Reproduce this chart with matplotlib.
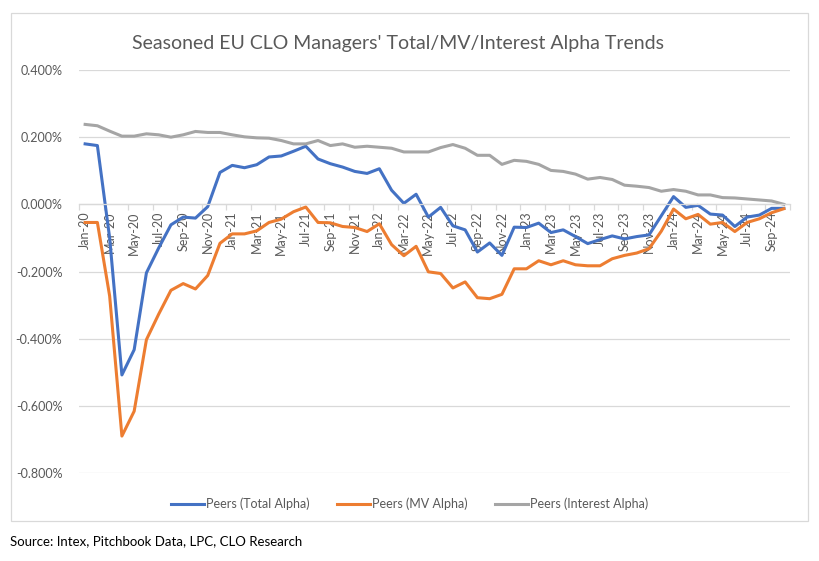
import matplotlib
matplotlib.use('Agg')
import matplotlib.pyplot as plt
from matplotlib.patches import Rectangle
from matplotlib.ticker import FuncFormatter
import pandas as pd

# monthly categories Jan-20 .. Oct-24
months = list(pd.date_range('2020-01-01', periods=58, freq='MS').strftime('%b-%y'))

# values in percent
total_alpha = [0.180, 0.175, -0.100, -0.508, -0.433, -0.204, -0.130, -0.061, -0.038, -0.041,
               -0.007, 0.095, 0.116, 0.109, 0.118, 0.141, 0.144, 0.158, 0.173, 0.135,
               0.121, 0.111, 0.098, 0.092, 0.106, 0.042, 0.003, 0.030, -0.038, -0.009,
               -0.064, -0.076, -0.142, -0.115, -0.152, -0.068, -0.069, -0.056, -0.084, -0.076,
               -0.096, -0.117, -0.105, -0.094, -0.103, -0.096, -0.091, -0.034, 0.023, -0.009,
               -0.003, -0.029, -0.032, -0.066, -0.038, -0.032, -0.012, -0.012]
mv_alpha = [-0.054, -0.054, -0.273, -0.690, -0.616, -0.403, -0.327, -0.256, -0.236, -0.252,
            -0.212, -0.116, -0.088, -0.088, -0.079, -0.054, -0.044, -0.022, -0.008, -0.054,
            -0.055, -0.066, -0.069, -0.081, -0.058, -0.120, -0.153, -0.125, -0.201, -0.206,
            -0.249, -0.231, -0.278, -0.281, -0.268, -0.192, -0.192, -0.168, -0.180, -0.168,
            -0.180, -0.183, -0.183, -0.162, -0.152, -0.145, -0.132, -0.080, -0.014, -0.043,
            -0.030, -0.059, -0.054, -0.081, -0.054, -0.043, -0.025, -0.013]
interest_alpha = [0.238, 0.234, 0.218, 0.203, 0.203, 0.210, 0.207, 0.200, 0.207, 0.217,
                  0.214, 0.214, 0.207, 0.201, 0.198, 0.197, 0.190, 0.180, 0.180, 0.190,
                  0.175, 0.180, 0.170, 0.173, 0.170, 0.167, 0.156, 0.156, 0.156, 0.169,
                  0.178, 0.167, 0.146, 0.146, 0.119, 0.131, 0.128, 0.119, 0.101, 0.098,
                  0.090, 0.075, 0.080, 0.074, 0.057, 0.054, 0.050, 0.039, 0.044, 0.039,
                  0.028, 0.028, 0.020, 0.019, 0.016, 0.013, 0.010, 0.000]
y_ticks = [-0.8, -0.6, -0.4, -0.2, 0.0, 0.2, 0.4]

plt.rcParams['font.family'] = ['Lato', 'DejaVu Sans']
txt = '#595959'
grid_c = '#D9D9D9'

fig = plt.figure(figsize=(8.2, 5.61), dpi=100)
W, H = 820, 561
ax = fig.add_axes([79 / W, 88 / H, (790 - 79) / W, (491 - 88) / H])

x = range(len(months))
ax.plot(x, total_alpha, color='#4472C4', lw=2.2, label='Peers (Total Alpha)', solid_joinstyle='round')
ax.plot(x, mv_alpha, color='#ED7D31', lw=2.2, label='Peers (MV Alpha)', solid_joinstyle='round')
ax.plot(x, interest_alpha, color='#A5A5A5', lw=2.2, label='Peers (Interest Alpha)', solid_joinstyle='round')

ax.set_xlim(-0.5, len(months) - 0.5)
ax.set_ylim(-0.8, 0.4)
ax.set_yticks(y_ticks)
ax.yaxis.set_major_formatter(FuncFormatter(lambda v, p: '%.3f%%' % v))
ax.yaxis.grid(True, color=grid_c, lw=0.9)
ax.set_axisbelow(True)

# category axis crossing at zero
for s in ['top', 'right', 'left']:
    ax.spines[s].set_visible(False)
ax.spines['bottom'].set_position(('data', 0))
ax.spines['bottom'].set_color(grid_c)
ax.spines['bottom'].set_linewidth(0.9)

ax.set_xticks(list(x)[::2])
ax.set_xticklabels(months[::2], rotation=90, fontsize=9, color=txt)
ax.set_xticks([i - 0.5 for i in range(0, len(months) + 1, 2)], minor=True)
ax.tick_params(axis='x', which='major', length=0, pad=5)
ax.tick_params(axis='x', which='minor', length=4.5, color=grid_c, width=0.9)
ax.tick_params(axis='y', length=0, pad=12, labelsize=9, labelcolor=txt)

fig.text(398 / W, 1 - 44 / H, "Seasoned EU CLO Managers' Total/MV/Interest Alpha Trends",
         ha='center', va='center', fontsize=14, color=txt)

fig.legend(loc='center', bbox_to_anchor=(410 / W, 1 - 504 / H), ncol=3, frameon=False,
           fontsize=9, handlelength=2.6, columnspacing=2.2, handletextpad=0.2,
           labelcolor=txt)

fig.patches.append(Rectangle((11 / W, 1 - 521 / H), (808 - 11) / W, (521 - 13) / H,
                             transform=fig.transFigure, fill=False, edgecolor=grid_c, lw=0.9))
fig.text(10 / W, 1 - 541 / H, 'Source: Intex, Pitchbook Data, LPC, CLO Research',
         ha='left', va='center', fontsize=9.5, color='black')

plt.savefig('out.png', dpi=100)
